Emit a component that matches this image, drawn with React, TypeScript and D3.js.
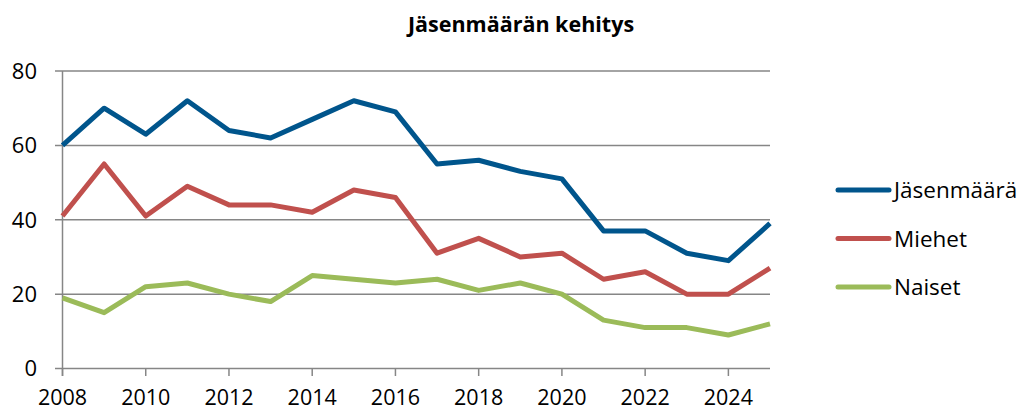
import React from "react";
import * as d3 from "d3";

const years = [2008,2009,2010,2011,2012,2013,2014,2015,2016,2017,2018,2019,2020,2021,2022,2023,2024,2025];
const jasenmaara = [60,70,63,72,64,62,67,72,69,55,56,53,51,37,37,31,29,39];
const miehet = [41,55,41,49,44,44,42,48,46,31,35,30,31,24,26,20,20,27];
const naiset = [19,15,22,23,20,18,25,24,23,24,21,23,20,13,11,11,9,12];
const yTicks = [0,20,40,60,80];
const xTicks = [2008,2010,2012,2014,2016,2018,2020,2022,2024];
const seriesNames = ["Jäsenmäärä","Miehet","Naiset"];
const colors = ["#00558C","#C0504D","#9BBB59"];

export default function App() {
  const W = 1024, H = 412;
  const x = d3.scaleLinear().domain([2008, 2025]).range([62.5, 770]);
  const y = d3.scaleLinear().domain([0, 80]).range([368.5, 71]);
  const series = [jasenmaara, miehet, naiset];
  const line = d3.line<number>().x((_, i) => x(years[i])).y(d => y(d));
  const font = "'Open Sans', 'Liberation Sans', sans-serif";
  return (
    <svg width={W} height={H} style={{ position: "absolute", left: 0, top: 0, background: "#fff" }}>
      <rect width={W} height={H} fill="#fff" />
      <text x={521} y={32} textAnchor="middle" fontFamily={font} fontWeight="bold" fontSize={21.5} fill="#000">Jäsenmäärän kehitys</text>
      {yTicks.map(t => (
        <g key={t}>
          <line x1={55} x2={770} y1={y(t)} y2={y(t)} stroke="#868686" strokeWidth={1.5} />
          <text x={37} y={y(t)} dy="0.36em" textAnchor="end" fontFamily={font} fontSize={22} fill="#000">{t}</text>
        </g>
      ))}
      <line x1={x(2008)} x2={x(2008)} y1={y(80)} y2={376} stroke="#868686" strokeWidth={1.5} />
      {xTicks.map(t => (
        <g key={t}>
          <line x1={x(t)} x2={x(t)} y1={y(0)} y2={376} stroke="#868686" strokeWidth={1.5} />
          <text x={x(t)} y={405} textAnchor="middle" fontFamily={font} fontSize={21.5} fill="#000">{t}</text>
        </g>
      ))}
      {series.map((s, i) => (
        <path key={i} d={line(s) || ""} fill="none" stroke={colors[i]} strokeWidth={5} strokeLinejoin="round" />
      ))}
      {seriesNames.map((n, i) => {
        const ly = 190 + i * 48.5;
        return (
          <g key={n}>
            <line x1={838} x2={889} y1={ly} y2={ly} stroke={colors[i]} strokeWidth={5} strokeLinecap="round" />
            <text x={894} y={ly} dy="0.36em" fontFamily={font} fontSize={22.5} fill="#000">{n}</text>
          </g>
        );
      })}
    </svg>
  );
}
